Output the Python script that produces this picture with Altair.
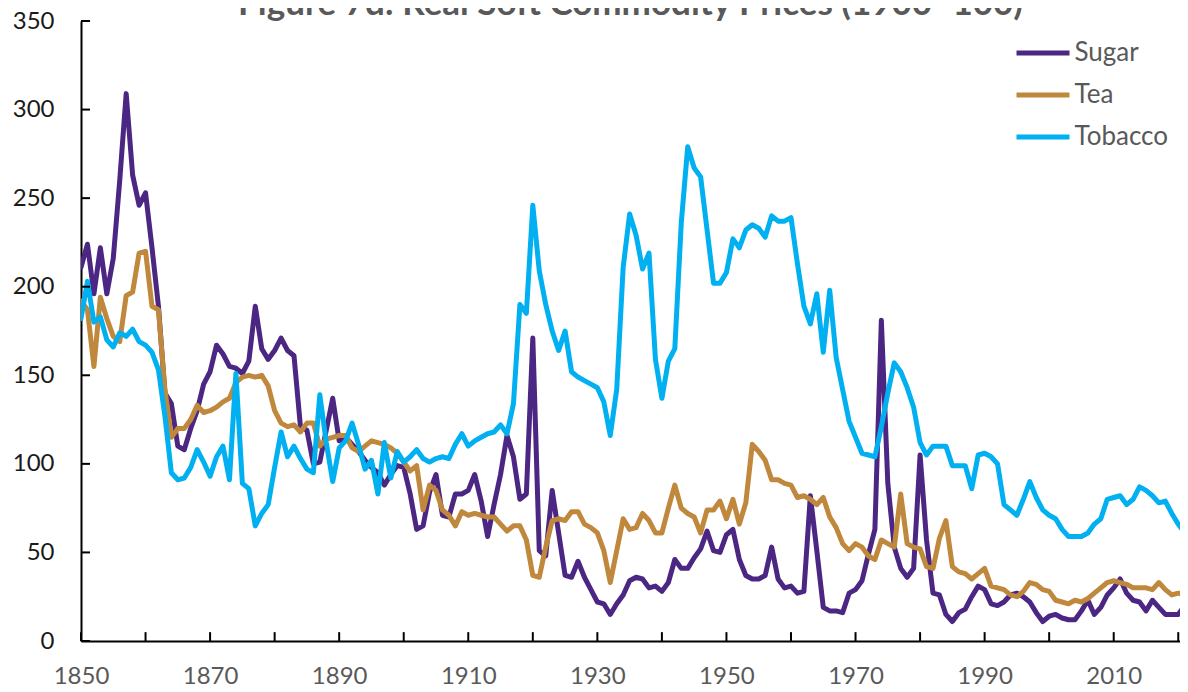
import altair as alt
import pandas as pd

years = list(range(1850, 2022))

sugar = [211, 224, 196, 222, 196, 216, 260, 309, 263, 246,
         253, 222, 189, 140, 134, 110, 108, 120, 130, 145,
         152, 167, 162, 155, 154, 151, 158, 189, 165, 159,
         164, 171, 164, 161, 121, 119, 100, 101, 119, 137,
         113, 115, 111, 107, 102, 98, 95, 88, 94, 99,
         98, 83, 63, 65, 84, 94, 71, 70, 83, 83,
         85, 94, 79, 59, 77, 94, 116, 104, 80, 83,
         171, 51, 48, 85, 61, 37, 36, 45, 36, 29,
         22, 21, 15, 21, 26, 34, 36, 35, 30, 31,
         28, 33, 46, 41, 41, 47, 52, 62, 51, 50,
         60, 63, 46, 37, 35, 35, 37, 53, 35, 30,
         31, 27, 28, 82, 51, 19, 17, 17, 16, 27,
         29, 34, 49, 63, 181, 89, 53, 41, 36, 41,
         105, 57, 27, 26, 15, 11, 16, 18, 25, 31,
         29, 21, 20, 22, 26, 27, 25, 22, 16, 11,
         14, 15, 13, 12, 12, 17, 23, 15, 19, 26,
         30, 35, 27, 23, 22, 17, 23, 19, 15, 15,
         15, 20]

tea = [192, 187, 155, 194, 182, 172, 169, 195, 197, 219,
       220, 189, 187, 142, 115, 120, 120, 125, 133, 129,
       130, 132, 135, 137, 146, 149, 150, 149, 150, 144,
       130, 123, 121, 122, 118, 123, 123, 110, 114, 115,
       116, 116, 109, 107, 110, 113, 112, 111, 109, 106,
       101, 96, 99, 74, 88, 85, 74, 71, 65, 73,
       71, 72, 71, 70, 70, 66, 62, 65, 65, 57,
       37, 36, 53, 68, 69, 68, 73, 73, 66, 64,
       61, 51, 33, 51, 69, 63, 64, 72, 68, 61,
       61, 75, 88, 75, 72, 70, 61, 74, 74, 79,
       69, 80, 66, 78, 111, 107, 102, 91, 91, 89,
       88, 81, 82, 80, 77, 81, 70, 64, 55, 51,
       55, 53, 48, 46, 57, 55, 53, 83, 55, 53,
       52, 42, 41, 58, 68, 42, 39, 38, 35, 38,
       41, 31, 30, 29, 26, 25, 28, 33, 32, 29,
       28, 23, 22, 21, 23, 22, 24, 27, 30, 33,
       34, 33, 32, 30, 30, 30, 29, 33, 29, 26,
       27, 26]

tobacco = [182, 203, 180, 183, 170, 166, 174, 172, 176, 169,
           167, 163, 153, 127, 95, 91, 92, 98, 108, 101,
           93, 104, 110, 91, 151, 89, 86, 65, 72, 77,
           98, 118, 104, 110, 103, 97, 95, 139, 112, 90,
           109, 113, 123, 111, 97, 102, 83, 112, 92, 107,
           101, 104, 108, 103, 101, 103, 104, 103, 111, 117,
           110, 113, 115, 117, 118, 122, 117, 134, 190, 185,
           246, 209, 190, 175, 164, 175, 152, 149, 147, 145,
           143, 135, 116, 142, 211, 241, 229, 210, 219, 159,
           137, 158, 165, 236, 279, 267, 262, 232, 202, 202,
           208, 227, 222, 232, 235, 233, 228, 240, 237, 237,
           239, 213, 189, 179, 196, 163, 198, 160, 142, 124,
           115, 106, 105, 104, 121, 140, 157, 152, 143, 132,
           112, 105, 110, 110, 110, 99, 99, 99, 86, 105,
           106, 104, 100, 77, 74, 71, 80, 90, 81, 74,
           71, 69, 63, 59, 59, 59, 61, 66, 69, 80,
           81, 82, 77, 80, 87, 85, 82, 78, 79, 72,
           66, 61]

series_names = ["Sugar", "Tea", "Tobacco"]
series_colors = ["#4B2683", "#C0883C", "#00B0F0"]
x_ticks = list(range(1850, 2021, 10))
y_ticks = list(range(0, 351, 50))
title_text = "Figure 7d: Real Soft Commodity Prices (1900=100)"

assert len(sugar) == len(years) and len(tea) == len(years) and len(tobacco) == len(years)

rows = []
for name, vals in zip(series_names, [sugar, tea, tobacco]):
    for yr, v in zip(years, vals):
        rows.append({"year": yr, "series": name, "value": v})
df = pd.DataFrame(rows)

FONT = "Lato"
xscale = alt.Scale(domain=[1850, 2020.27], nice=False, zero=False)
yscale = alt.Scale(domain=[0, 350], nice=False, zero=True)

x_axis = alt.Axis(
    values=x_ticks, format="d", title=None, grid=False, ticks=False,
    labelExpr="datum.value % 20 == 10 ? datum.label : ''",
    domainColor="#000000", domainWidth=2, labelFont=FONT, labelFontSize=24,
    labelColor="#595959", labelPadding=23, labelFlush=False, labelOverlap=False)
y_axis = alt.Axis(
    values=y_ticks, title=None, grid=False, ticks=False,
    domainColor="#000000", domainWidth=2, labelFont=FONT, labelFontSize=24,
    labelColor="#1a1a1a", labelPadding=27, labelFlush=False, labelOverlap=False)

lines = alt.Chart(df).mark_line(
    strokeWidth=5, clip=True, strokeJoin="round", strokeCap="round"
).encode(
    x=alt.X("year:Q", scale=xscale, axis=x_axis),
    y=alt.Y("value:Q", scale=yscale, axis=y_axis),
    color=alt.Color("series:N", scale=alt.Scale(domain=series_names, range=series_colors),
                    legend=alt.Legend(title=None, orient="none", legendX=933, legendY=3,
                                      symbolType="stroke", symbolSize=2809, symbolStrokeWidth=5,
                                      labelFont=FONT, labelFontSize=26, labelColor="#595959",
                                      labelOffset=2.5, rowPadding=0, padding=0, labelLimit=0)),
    order=alt.Order("year:Q"),
)

xtick_df = pd.DataFrame({"year": x_ticks})
xticks = alt.Chart(xtick_df).mark_rule(color="#000000", strokeWidth=2).encode(
    x=alt.X("year:Q", scale=xscale, axis=x_axis),
    y=alt.datum(0, scale=yscale, axis=y_axis),
    y2=alt.datum(5),
)

ytick_df = pd.DataFrame({"value": y_ticks})
yticks = alt.Chart(ytick_df).mark_rule(color="#000000", strokeWidth=2).encode(
    y=alt.Y("value:Q", scale=yscale, axis=y_axis),
    x=alt.datum(1850, scale=xscale, axis=x_axis),
    x2=alt.datum(1851.4),
)

chart = alt.layer(lines, xticks, yticks).properties(
    width=1099, height=620,
    padding={"left": 73, "top": 13, "right": 0, "bottom": 51},
    autosize=alt.AutoSizeParams(type="none"),
    title=alt.TitleParams(title_text, font=FONT, fontSize=35, fontWeight="bold",
                          color="#595959", anchor="middle", offset=-13),
    background="white",
).configure_view(strokeWidth=0)

chart.save("out.html", embed_options={"renderer": "svg", "actions": False})
